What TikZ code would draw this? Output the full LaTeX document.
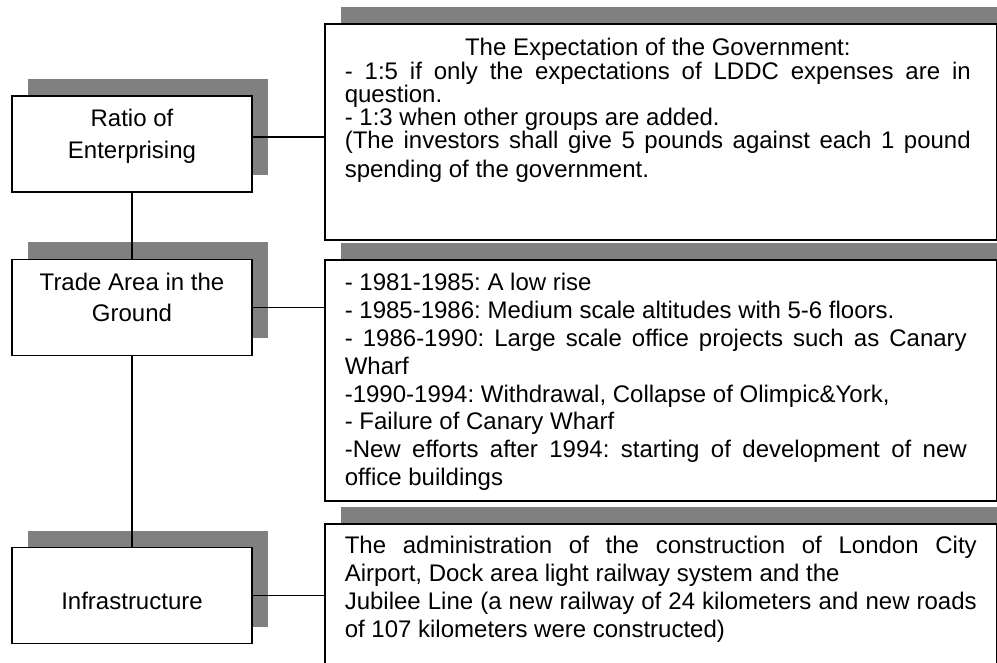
\documentclass[tikz,border=0pt]{standalone}
\usepackage{fontspec}
\setmainfont{Liberation Sans}
\usetikzlibrary{shadows}
\tolerance=9999
\hbadness=10000
\hyphenpenalty=10000
\exhyphenpenalty=10000
\frenchspacing

\begin{document}
\begin{tikzpicture}[x=0.5pt,y=-0.5pt,line width=0.8pt,
	shadebox/.style={draw,fill=white,inner sep=0pt,
		drop shadow={shadow xshift=8pt,shadow yshift=8.5pt,fill=gray,opacity=1}},
	topic/.style={shadebox,minimum width=120pt,minimum height=48pt},
	topictext/.style={align=center,inner sep=0pt,font=\fontsize{12}{15.8}\selectfont},
	detail/.style={shadebox,anchor=north west,minimum width=336pt},
	detailtext/.style={anchor=north west,inner sep=0pt,align=justify,
		execute at begin node={\parindent=0pt}}]
	\useasboundingbox (0,0) rectangle (997,663);
	\clip (0,0) rectangle (997,663);
	\node[topic] (ratio) at (132,144) {};
	\node[topic] (trade) at (132,307.5) {};
	\node[topic] (infra) at (132,595.5) {};
	\node[topictext] (ratio-txt) at ([yshift=3.75pt]ratio.center) {Ratio of\\Enterprising};
	\node[topictext] (trade-txt) at ([yshift=5pt]trade.center) {Trade Area in the\\Ground};
	\node[topictext] (infra-txt) at ([yshift=-2.9pt]infra.center) {Infrastructure};
	\node[detail,minimum height=108pt] (expect) at (324,23) {};
	\node[detail,minimum height=120.5pt] (phase) at (324,259) {};
	\node[detail,minimum height=100pt] (works) at (324,523) {};
	\node[detailtext,text width=313pt,font=\fontsize{12}{11.6}\selectfont] (expect-txt) at (344,37.7)
		{{\centering The Expectation of the Government:\par}
		- 1:5 if only the expectations of LDDC expenses are in\linebreak question.\par
		- 1:3 when other groups are added.\par
		(The investors shall give 5 pounds against each 1 pound\vadjust{\vskip2.9pt}\linebreak spending of the government.};
	\node[detailtext,text width=311pt,font=\fontsize{12}{13.9}\selectfont] (phase-txt) at (344,272.7)
		{- 1981-1985: A low rise\par
		- 1985-1986: Medium scale altitudes with 5-6 floors.\par
		- 1986-1990: Large scale office projects such as Canary\linebreak Wharf\par
		-1990-1994: Withdrawal, Collapse of Olimpic\&York,\par
		- Failure of Canary Wharf\par
		-New efforts after 1994: starting of development of new\linebreak office buildings};
	\node[detailtext,text width=316pt,font=\fontsize{12}{13.9}\selectfont] (works-txt) at (344,535.7)
		{The administration of the construction of London City\linebreak Airport, Dock area light railway system and the\par
		Jubilee Line (a new railway of 24 kilometers and new roads\linebreak of 107 kilometers were constructed)};
	\coordinate (ratio-out) at ([yshift=3.5pt]ratio.east);
	\draw (ratio-out) -- (ratio-out -| expect.west);
	\draw (trade.east) -- (trade.east -| phase.west);
	\draw (infra.east) -- (infra.east -| works.west);
	\draw (ratio) -- (trade);
	\draw (trade) -- (infra);
\end{tikzpicture}
\end{document}
